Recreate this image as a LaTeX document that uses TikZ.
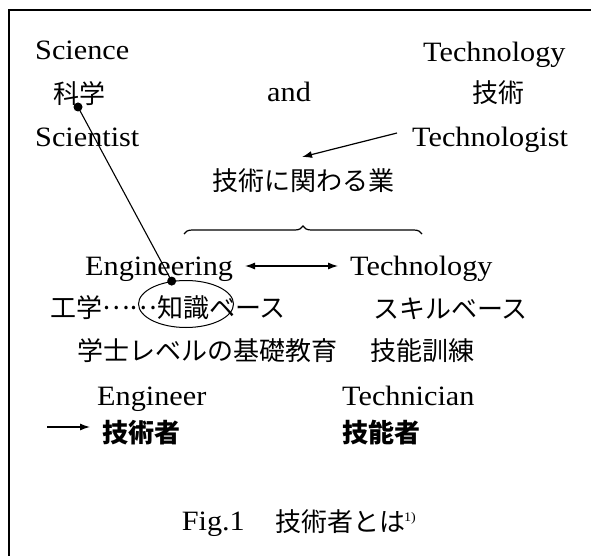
\documentclass[tikz,border=0pt]{standalone}
\usepackage{fontspec}
\setmainfont[FakeStretch=1.08]{Liberation Serif}
\newfontfamily\cjk{Noto Sans CJK JP}
\usetikzlibrary{arrows.meta,decorations.pathreplacing,shapes.geometric}
\begin{document}
\begin{tikzpicture}[x=1pt,y=-1pt,
  lat/.style={anchor=base west, inner sep=0pt, font=\fontsize{28}{28}\selectfont},
  jp/.style={anchor=base west, inner sep=0pt, font=\fontsize{26}{26}\selectfont\cjk},
  jpb/.style={anchor=base west, inner sep=0pt, font=\fontsize{26}{26}\selectfont\cjk\bfseries},
  arr/.style={-{Latex[length=10pt,width=7pt]}, line width=1.2pt},
  darr/.style={{Latex[length=10pt,width=7pt]}-{Latex[length=10pt,width=7pt]}, line width=1.2pt},
  dotnode/.style={circle, fill=black, inner sep=0pt, minimum size=9pt},
  conn/.style={line width=1.1pt},
]
\useasboundingbox (0,0) rectangle (591,556);
\draw[line width=1.4pt] (9,556) -- (9,10) -- (591,10);

% top block
\node[lat] (sci) at (35,60) {Science};
\node[jp] (kagaku) at (53,104) {科学};
\node[lat] (scist) at (35,147) {Scientist};
\node[lat] (and) at (267,102) {and};
\node[lat] (tech1) at (423,62) {Technology};
\node[jp] (gijutsu) at (472,103) {技術};
\node[lat] (tlogist) at (412,147) {Technologist};
\node[jp] (gyo) at (212,190) {技術に関わる業};

% brace
\coordinate (bl) at (184,234);
\coordinate (br) at (422,234);
\draw[line width=1.2pt, decorate, decoration={brace, amplitude=8pt}] (bl) -- (br);

% middle block
\node[lat] (eng) at (85,275) {Engineering};
\node[lat] (tech2) at (350,275) {Technology};
\node[jp] (kogaku) at (50,317) {工学\raisebox{0.3em}{……}知識ベース};
\node[draw, ellipse, line width=1pt, minimum width=95pt, minimum height=47pt] (ell) at (186,304) {};
\node[jp] (skill) at (373,318) {スキルベース};
\node[jp] (gakushi) at (77,360) {学士レベルの基礎教育};
\node[jp] (ginou) at (370,360) {技能訓練};

% bottom block
\node[lat] (engr) at (97,405) {Engineer};
\node[lat] (techn) at (342,405) {Technician};
\node[jpb] (gjs) at (102,442) {技術者};
\node[jpb] (gns) at (342,442) {技能者};

% caption
\node[lat, anchor=base east] (fig) at (245,530) {Fig.1};
\node[jp] (figjp) at (275,531) {技術者とは};
\node[anchor=base west, inner sep=0pt, font=\fontsize{13}{13}\selectfont] (figref) at (404,521) {1)};

% dots and line
\node[dotnode] (d1) at (78,107) {};
\node[dotnode] (d2) at (ell.122) {};
\draw[conn] (d1.center) -- (d2.center);

% arrows
\coordinate (ts) at (397,133);
\coordinate (tt) at (302,157);
\draw[arr] (ts) -- (tt);
\coordinate (dl) at (245,266);
\coordinate (dr) at (338,266);
\draw[darr] (dl) -- (dr);
\coordinate (bs) at (47,427);
\coordinate (bt) at (90,427);
\draw[arr] (bs) -- (bt);
\end{tikzpicture}
\end{document}
